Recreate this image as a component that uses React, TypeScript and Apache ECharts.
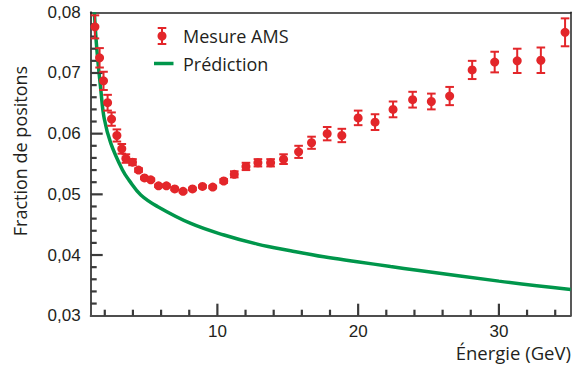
import React, { useEffect, useRef } from "react";
import * as echarts from "echarts";

const energy = [1.3, 1.63, 1.91, 2.2, 2.48, 2.86, 3.21, 3.5, 3.97, 4.4, 4.82, 5.27, 5.82, 6.38, 6.97, 7.56, 8.23, 8.94, 9.67, 10.45, 11.2, 12.03, 12.88, 13.78, 14.7, 15.77, 16.69, 17.8, 18.84, 20.0, 21.2, 22.48, 23.87, 25.2, 26.5, 28.1, 29.7, 31.3, 32.98, 34.7];
const fraction = [0.0776, 0.0725, 0.0687, 0.0651, 0.0624, 0.0597, 0.0575, 0.0559, 0.0553, 0.054, 0.0527, 0.0524, 0.0514, 0.0514, 0.0509, 0.0505, 0.0509, 0.0513, 0.0512, 0.0522, 0.0533, 0.0546, 0.0552, 0.0552, 0.0558, 0.057, 0.0585, 0.06, 0.0597, 0.0626, 0.0619, 0.064, 0.0656, 0.0653, 0.0662, 0.0705, 0.0718, 0.072, 0.0721, 0.0767];
const errors = [0.0019, 0.0016, 0.0015, 0.0013, 0.0011, 0.001, 0.0008, 0.0007, 0.0005, 0.0003, 0.0002, 0.0002, 0.0002, 0.0002, 0.0002, 0.0002, 0.0002, 0.0002, 0.0002, 0.0003, 0.0005, 0.0006, 0.0006, 0.0006, 0.0008, 0.001, 0.001, 0.0011, 0.0011, 0.0012, 0.0013, 0.0013, 0.0013, 0.0013, 0.0015, 0.0015, 0.0017, 0.002, 0.0021, 0.0023];

// Prediction curve
const predEnergy = [1.26, 1.44, 1.72, 1.96, 2.43, 3.26, 3.73, 4.56, 5.74, 8.11, 10.47, 12.84, 15.2, 17.56, 19.93, 22.3, 24.2, 30.0, 35.1];
const predFraction = [0.08, 0.0738, 0.0672, 0.0625, 0.0584, 0.054, 0.0523, 0.0499, 0.048, 0.0452, 0.0433, 0.0418, 0.0407, 0.0397, 0.0389, 0.0381, 0.0375, 0.0357, 0.0343];

// Axis ranges, ticks and labels
const X_MIN = 1;
const X_MAX = 35.1;
const Y_MIN = 0.03;
const Y_MAX = 0.08;
const xMajorTicks = [10, 20, 30];
const xMinorTicks = [2, 4, 6, 8, 12, 14, 16, 18, 22, 24, 26, 28, 32, 34];
const yMajorTicks = [0.04, 0.05, 0.06, 0.07];
const yMinorTicks = [0.032, 0.034, 0.036, 0.038, 0.042, 0.044, 0.046, 0.048, 0.052, 0.054, 0.056, 0.058, 0.062, 0.064, 0.066, 0.068, 0.072, 0.074, 0.076, 0.078];

const RED = "#e3262a";
const GREEN = "#00964b";
const AXIS = "#4d4d4d";
const TICK = "#3a3a3a";
const FRAME = "#222222";
const TEXT = "#231f20";
const MAJOR_LEN = 12;
const MINOR_LEN = 6;

export default function App() {
  const ref = useRef<HTMLDivElement>(null);
  useEffect(() => {
    if (!ref.current) return;
    const chart = echarts.init(ref.current, null, { renderer: "svg" });
    const scatterData = energy.map((e, i) => [e, fraction[i]]);
    const errData = energy.map((e, i) => [e, fraction[i], errors[i]]);
    const predData = predEnergy.map((e, i) => [e, predFraction[i]]);

    // [x, y, direction (0: up from x axis, 1: right from y axis), length]
    const tickData = [
      ...xMajorTicks.map((v) => [v, Y_MIN, 0, MAJOR_LEN]),
      ...xMinorTicks.map((v) => [v, Y_MIN, 0, MINOR_LEN]),
      ...yMajorTicks.map((v) => [X_MIN, v, 1, MAJOR_LEN]),
      ...yMinorTicks.map((v) => [X_MIN, v, 1, MINOR_LEN]),
    ];

    const frameAxis = {
      type: "value" as const,
      splitLine: { show: false },
      axisTick: { show: false },
      axisLabel: { show: false },
      axisLine: { show: true, onZero: false, lineStyle: { color: FRAME, width: 1.5 } },
    };

    chart.setOption({
      animation: false,
      grid: {
        left: 90.7,
        right: 10.3,
        top: 12.3,
        bottom: 50.3,
        show: false,
      },
      xAxis: [
        {
          type: "value",
          min: X_MIN,
          max: X_MAX,
          position: "bottom",
          splitLine: { show: false },
          axisLine: { show: true, onZero: false, lineStyle: { color: AXIS, width: 2 } },
          axisTick: { show: false },
          axisLabel: {
            customValues: xMajorTicks,
            margin: 7,
            fontSize: 17,
            color: TEXT,
            fontFamily: "Liberation Sans",
          },
        },
        { ...frameAxis, min: X_MIN, max: X_MAX, position: "top" },
      ],
      yAxis: [
        {
          type: "value",
          min: Y_MIN,
          max: Y_MAX,
          interval: 0.01,
          position: "left",
          splitLine: { show: false },
          axisLine: { show: true, onZero: false, lineStyle: { color: AXIS, width: 2 } },
          axisTick: { show: false },
          axisLabel: {
            margin: 10,
            fontSize: 17,
            color: TEXT,
            fontFamily: "Liberation Sans",
            formatter: (v: number) => v.toFixed(2).replace(".", ","),
          },
        },
        { ...frameAxis, min: Y_MIN, max: Y_MAX, position: "right" },
      ],
      series: [
        {
          type: "line",
          name: "Prédiction",
          data: predData,
          smooth: 0.4,
          showSymbol: false,
          lineStyle: { color: GREEN, width: 3.5 },
          clip: true,
          z: 2,
        },
        {
          type: "custom",
          name: "ticks",
          data: tickData,
          z: 3,
          renderItem: (params: any, api: any) => {
            const p = api.coord([api.value(0), api.value(1)]);
            const dir = api.value(2);
            const len = api.value(3);
            const shape =
              dir === 0
                ? { x1: p[0], y1: p[1], x2: p[0], y2: p[1] - len }
                : { x1: p[0], y1: p[1], x2: p[0] + len, y2: p[1] };
            return {
              type: "group",
              children: [{ type: "line", shape, style: { stroke: TICK, lineWidth: 2.2 } }],
            };
          },
        },
        {
          type: "custom",
          name: "err",
          data: errData,
          z: 3,
          renderItem: (params: any, api: any) => {
            const x = api.value(0);
            const y = api.value(1);
            const e = api.value(2);
            const top = api.coord([x, y + e]);
            const bot = api.coord([x, y - e]);
            const hw = 4.3;
            const style = { stroke: RED, lineWidth: 2 };
            return {
              type: "group",
              children: [
                { type: "line", shape: { x1: top[0], y1: top[1], x2: bot[0], y2: bot[1] }, style },
                { type: "line", shape: { x1: top[0] - hw, y1: top[1], x2: top[0] + hw, y2: top[1] }, style },
                { type: "line", shape: { x1: bot[0] - hw, y1: bot[1], x2: bot[0] + hw, y2: bot[1] }, style },
              ],
            };
          },
        },
        {
          type: "scatter",
          name: "Mesure AMS",
          data: scatterData,
          symbol: "circle",
          symbolSize: 9,
          itemStyle: { color: RED, opacity: 1 },
          z: 4,
        },
      ],
      graphic: [
        // legend: error-bar marker
        { type: "line", shape: { x1: 162, y1: 28, x2: 162, y2: 44 }, style: { stroke: RED, lineWidth: 2 } },
        { type: "line", shape: { x1: 157.7, y1: 28, x2: 166.3, y2: 28 }, style: { stroke: RED, lineWidth: 2 } },
        { type: "line", shape: { x1: 157.7, y1: 44, x2: 166.3, y2: 44 }, style: { stroke: RED, lineWidth: 2 } },
        { type: "circle", shape: { cx: 162, cy: 36, r: 4.5 }, style: { fill: RED } },
        {
          type: "text",
          x: 183,
          y: 36,
          style: { text: "Mesure AMS", fontSize: 18, fontFamily: "Open Sans", fill: TEXT, textVerticalAlign: "middle" },
        },
        { type: "line", shape: { x1: 154, y1: 63.5, x2: 173.5, y2: 63.5 }, style: { stroke: GREEN, lineWidth: 3.5 } },
        {
          type: "text",
          x: 183,
          y: 63.5,
          style: { text: "Prédiction", fontSize: 18, fontFamily: "Open Sans", fill: TEXT, textVerticalAlign: "middle" },
        },
        {
          type: "text",
          x: 20,
          y: 151,
          rotation: Math.PI / 2,
          style: {
            text: "Fraction de positons",
            fontSize: 18,
            fontFamily: "Open Sans",
            fill: TEXT,
            textAlign: "center",
            textVerticalAlign: "middle",
          },
        },
        {
          type: "text",
          x: 571,
          y: 352,
          style: {
            text: "Énergie (GeV)",
            fontSize: 18.5,
            fontFamily: "Open Sans",
            fill: TEXT,
            textAlign: "right",
            textVerticalAlign: "middle",
          },
        },
      ],
    });
    return () => chart.dispose();
  }, []);
  return (
    <div
      ref={ref}
      style={{ position: "fixed", left: 0, top: 0, width: 581, height: 366, background: "#fff" }}
    />
  );
}
